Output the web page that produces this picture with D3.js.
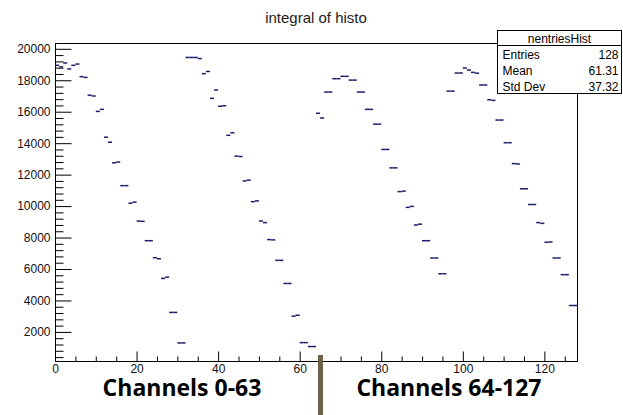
<html>
<head>
<script src="https://d3js.org/d3.v7.min.js"></script>
<style>
body { margin: 0; background: #fff; }
svg { display: block; font-family: "Liberation Sans", Arial, sans-serif; }
.axis text { font-size: 12px; fill: #111; }
.axis line { stroke: #000; }
</style>
</head>
<body>
<svg></svg>
<script>

var width = 623;
var height = 415;

// bin contents, bins 0..127
var contents0 = [18950, 18850, 19100, 18720, 18950, 19030, 18230, 18180,
  17050, 17000, 16020, 16150, 14380, 14060, 12750, 12800,
  11300, 11300, 10180, 10250, 9050, 9030, 7800, 7800,
  6720, 6650, 5400, 5480, 3240, 3240, 1300, 1300];
var contents1 = [19450, 19450, 19450, 19380, 18420, 18560, 16850, 17380,
  16350, 16380, 14500, 14660, 13180, 13150, 11600, 11650,
  10280, 10330, 9050, 8950, 7870, 7850, 6550, 6550,
  5080, 5080, 3000, 3060, 1320, 1320, 1070, 1070];
var contents2 = [15900, 15600, 17250, 17250, 18100, 18100, 18250, 18250,
  18010, 18010, 17250, 17250, 16150, 16150, 15210, 15210,
  13600, 13600, 12430, 12430, 10920, 10950, 9920, 9980,
  8800, 8850, 7800, 7800, 6700, 6700, 5700, 5700];
var contents3 = [17310, 17310, 18460, 18460, 18780, 18650, 18500, 18450,
  17700, 17700, 16760, 16720, 15470, 15470, 14030, 14030,
  12700, 12680, 11100, 11100, 10100, 10100, 8950, 8900,
  7700, 7720, 6700, 6700, 5640, 5640, 3680, 3680];
var contents = contents0.concat(contents1, contents2, contents3);

var xTicks = [0, 20, 40, 60, 80, 100, 120];
var yTicks = [2000, 4000, 6000, 8000, 10000, 12000, 14000, 16000, 18000, 20000];
var statNames = ["Entries", "Mean", "Std Dev"];
var statValues = ["128", "61.31", "37.32"];
var groupLabels = ["Channels 0-63", "Channels 64-127"];

var frame = { left: 55, right: 577, top: 43, bottom: 361 };

var xScale = d3.scaleLinear().domain([0, 128]).range([frame.left, frame.right]);
var yScale = d3.scaleLinear().domain([151, 20369]).range([frame.bottom, frame.top]);

var svg = d3.select("svg").attr("width", width).attr("height", height);

// title
svg.append("text")
  .attr("x", 316).attr("y", 23)
  .attr("text-anchor", "middle")
  .style("font-size", "15px").style("fill", "#222")
  .text("integral of histo");

// frame
svg.append("rect")
  .attr("x", frame.left + 0.5).attr("y", frame.top + 0.5)
  .attr("width", frame.right - frame.left).attr("height", frame.bottom - frame.top)
  .style("fill", "none").style("stroke", "#000");

// x axis, ticks pointing into the frame
var xMinor = d3.range(5, 128, 5).filter(function (d) { return d % 20 != 0; });
svg.append("g").attr("class", "axis")
  .attr("transform", "translate(0," + (frame.bottom + 0.5) + ")")
  .call(d3.axisBottom(xScale).tickValues(xMinor).tickSize(-5).tickFormat(""))
  .call(function (g) { g.select(".domain").remove(); });
svg.append("g").attr("class", "axis")
  .attr("transform", "translate(0," + (frame.bottom + 0.5) + ")")
  .call(d3.axisBottom(xScale).tickValues(xTicks).tickSize(-10).tickPadding(3))
  .call(function (g) { g.select(".domain").remove(); });

// y axis
var yMinor = d3.range(400, 20001, 400).filter(function (d) { return d % 2000 != 0; });
svg.append("g").attr("class", "axis")
  .attr("transform", "translate(" + (frame.left + 0.5) + ",0)")
  .call(d3.axisLeft(yScale).tickValues(yMinor).tickSize(-8).tickFormat(""))
  .call(function (g) { g.select(".domain").remove(); });
svg.append("g").attr("class", "axis")
  .attr("transform", "translate(" + (frame.left + 0.5) + ",0)")
  .call(d3.axisLeft(yScale).tickValues(yTicks).tickSize(-16).tickPadding(5).tickFormat(d3.format("d")))
  .call(function (g) { g.select(".domain").remove(); });

// histogram bins as short horizontal dashes
svg.append("g").selectAll("line").data(contents).enter().append("line")
  .attr("x1", function (d, i) { return xScale(i); })
  .attr("x2", function (d, i) { return xScale(i + 1); })
  .attr("y1", function (d) { return yScale(d); })
  .attr("y2", function (d) { return yScale(d); })
  .style("stroke", "#1c1c6b")
  .style("stroke-width", 1.5);

// stats box
var box = svg.append("g").attr("transform", "translate(497.5,30.5)");
box.append("rect").attr("width", 124).attr("height", 63)
  .style("fill", "#fff").style("stroke", "#000");
box.append("line").attr("x1", 0).attr("x2", 124).attr("y1", 15).attr("y2", 15)
  .style("stroke", "#000");
box.append("text").attr("x", 62).attr("y", 12).attr("text-anchor", "middle")
  .style("font-size", "12px").text("nentriesHist");
box.selectAll(".sname").data(statNames).enter().append("text")
  .attr("x", 5).attr("y", function (d, i) { return 28 + i * 16; })
  .style("font-size", "12px").text(function (d) { return d; });
box.selectAll(".sval").data(statValues).enter().append("text")
  .attr("x", 121).attr("y", function (d, i) { return 28 + i * 16; })
  .attr("text-anchor", "end")
  .style("font-size", "12px").text(function (d) { return d; });

// annotation below the axis
svg.append("rect")
  .attr("x", 318).attr("y", 355).attr("width", 5).attr("height", 60)
  .style("fill", "#6e614a");
svg.selectAll(".glabel").data(groupLabels).enter().append("text")
  .attr("x", function (d, i) { return i == 0 ? 182 : 449; })
  .attr("y", 396)
  .attr("text-anchor", "middle")
  .style("font-family", "'Open Sans', 'Noto Sans', sans-serif")
  .style("font-weight", "bold")
  .style("font-size", "23px")
  .style("fill", "#000")
  .text(function (d) { return d; });

</script>
</body>
</html>
